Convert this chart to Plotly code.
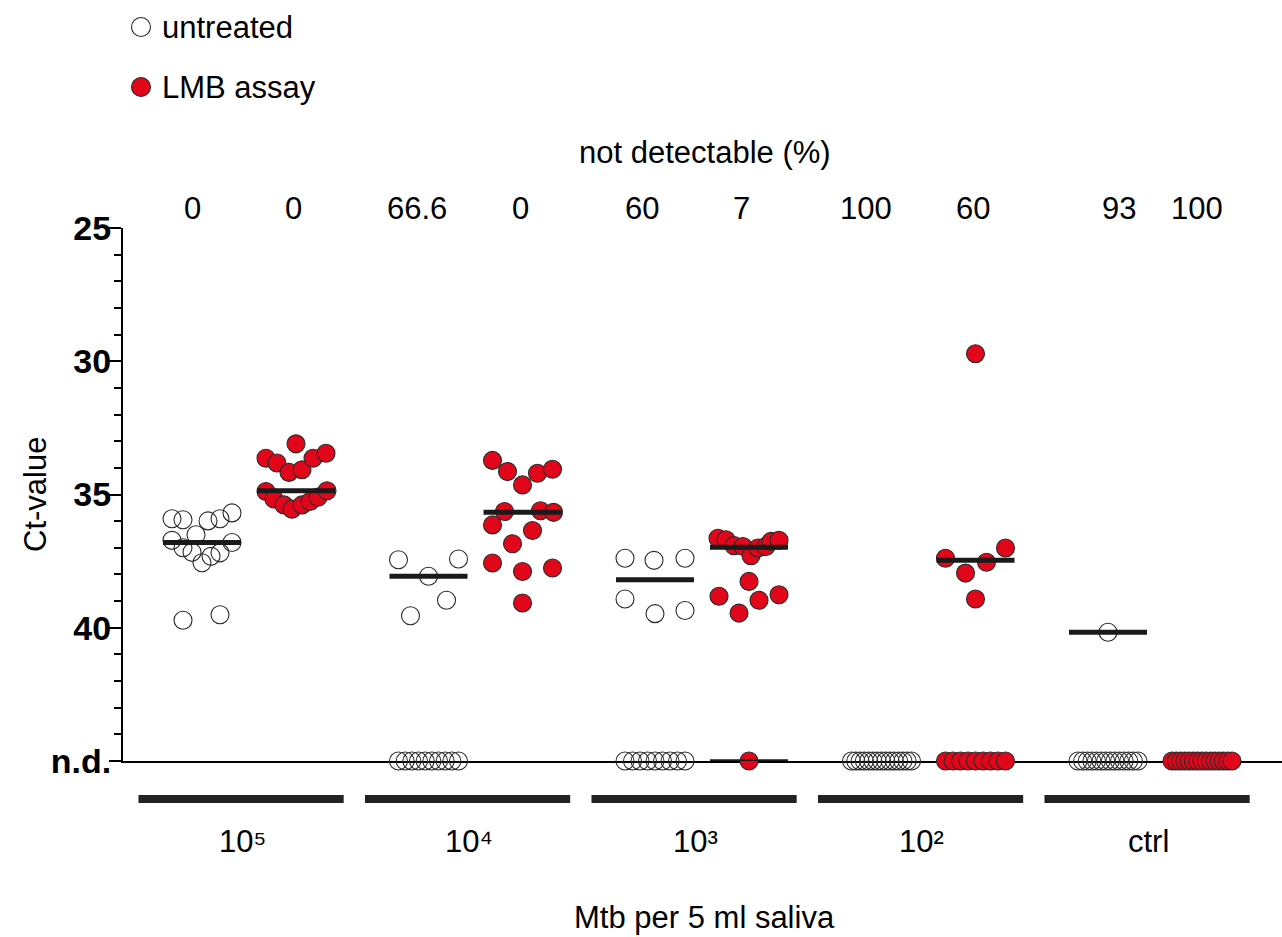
import numpy as np
import plotly.graph_objects as go

# ---------------- data ----------------
groups = ["10\u2075", "10\u2074", "10\u00b3", "10\u00b2", "ctrl"]
nd_percent_untreated = ["0", "66.6", "60", "100", "93"]
nd_percent_lmb = ["0", "0", "7", "60", "100"]

ND = 45  # Ct position used for "not detectable"

untreated_ct = [
    [35.91, 35.95, 35.99, 35.91, 35.69, 36.51, 36.72, 37.0, 37.17, 37.56, 37.32, 37.19, 36.8, 39.72, 39.51],
    [37.45, 38.07, 37.42, 38.97, 39.55],
    [37.39, 37.47, 37.39, 38.92, 39.47, 39.35],
    [],
    [40.17],
]
untreated_jitter_px = [
    [-30, -19, 6, 18, 30, -6, -30, -19, -10, 0, 9, 18, 30, -19, 18],
    [-30, 0, 30, 18, -18],
    [-30, -1, 30, -30, 0, 30],
    [],
    [0],
]
untreated_nd_count = [0, 10, 9, 15, 14]

lmb_ct = [
    [33.1, 33.64, 33.82, 34.17, 34.07, 33.64, 33.45, 34.89, 35.17, 35.39, 35.55, 35.39, 35.26, 35.1, 34.86],
    [33.72, 34.14, 34.64, 34.2, 34.05, 35.64, 35.61, 35.67, 36.14, 36.35, 36.85, 37.57, 37.89, 37.76, 39.07],
    [36.64, 36.7, 36.92, 36.95, 37.3, 37.01, 36.95, 36.76, 36.72, 38.26, 38.82, 38.97, 38.76, 39.45],
    [29.72, 37.39, 37.95, 37.54, 37.01, 38.92],
    [],
]
lmb_jitter_px = [
    [0, -30, -19, -7, 6, 17, 30, -30, -22, -12, -4, 6, 14, 22, 31],
    [-30, -15, 0, 15, 30, -18, 18, 31, -30, 10, -10, -30, 0, 30, 0],
    [-31, -23, -15, -6, 2, 9, 17, 22, 30, 0, -30, 10, 30, -10],
    [0, -30, -10, 11, 30, 0],
    [],
]
lmb_nd_count = [0, 0, 1, 9, 15]

# ---------------- geometry ----------------
W, H = 1282, 937
L, R, T, B = 123, 0, 228, 176
PX_PER_UNIT = 226.5
X0_PX = 249.0  # pixel of group 0 center
xmin = (L - X0_PX) / PX_PER_UNIT
xmax = (W - R - X0_PX) / PX_PER_UNIT
SERIES_OFF = 47 / PX_PER_UNIT
MED_HALF = 39 / PX_PER_UNIT
ND_SPREAD = 30 / PX_PER_UNIT

# small text nudges (pixels) for the percentage header
NUDGE_U = [0, -2, -4, -6, 20]
NUDGE_L = [0, 0, -5, 0, -3]

plot_w = W - L - R
plot_h = H - T - B


def pxx(p):
    return (p - L) / plot_w


def pxy(p):
    return (H - B - p) / plot_h


RED = "#e2061a"
EDGE = "#2a2a2a"
FONT = "Liberation Sans, Arial, sans-serif"
FS = 31

fig = go.Figure()


def add_series(cts, jit, ndc, offset, fill, name):
    xs, ys = [], []
    for i in range(len(groups)):
        c = i + offset
        for v, j in zip(cts[i], jit[i]):
            xs.append(c + j / PX_PER_UNIT)
            ys.append(v)
        n = ndc[i]
        if n == 1:
            xs.append(c)
            ys.append(ND)
        elif n > 1:
            for k in np.linspace(-ND_SPREAD, ND_SPREAD, n):
                xs.append(c + k)
                ys.append(ND)
    fig.add_trace(go.Scatter(
        x=xs, y=ys, mode="markers", name=name, showlegend=False,
        cliponaxis=False,
        marker=dict(symbol="circle", size=18, color=fill,
                    line=dict(color=EDGE, width=1.1)),
    ))


add_series(untreated_ct, untreated_jitter_px, untreated_nd_count, -SERIES_OFF,
           "rgba(255,255,255,0)", "untreated")
add_series(lmb_ct, lmb_jitter_px, lmb_nd_count, SERIES_OFF, RED, "LMB assay")

# median lines of detected values
for cts, off in ((untreated_ct, -SERIES_OFF), (lmb_ct, SERIES_OFF)):
    for i, vals in enumerate(cts):
        if len(vals) == 0:
            continue
        m = float(np.median(vals))
        c = i + off
        fig.add_trace(go.Scatter(
            x=[c - MED_HALF, c + MED_HALF], y=[m, m], mode="lines",
            showlegend=False, hoverinfo="skip",
            line=dict(color="#1a1a1a", width=5),
        ))

# short line at n.d. for the LMB 10^3 group
fig.add_trace(go.Scatter(
    x=[2 + SERIES_OFF - MED_HALF, 2 + SERIES_OFF + MED_HALF], y=[ND, ND],
    mode="lines", showlegend=False, hoverinfo="skip", cliponaxis=False,
    line=dict(color="#1a1a1a", width=3.5),
))

shapes = []
annotations = []

# group bars and labels under the axis
for i, g in enumerate(groups):
    shapes.append(dict(type="line", xref="x", yref="paper",
                       x0=i - 0.453 - 0.035, x1=i + 0.453 - 0.035,
                       y0=pxy(799), y1=pxy(799),
                       line=dict(color="#222222", width=8)))
    annotations.append(dict(xref="x", yref="paper", x=i - 0.03, y=pxy(841),
                            text=g, showarrow=False,
                            font=dict(family=FONT, size=FS, color="black"),
                            xanchor="center", yanchor="middle"))
    # not detectable percentages
    annotations.append(dict(xref="x", yref="paper",
                            x=i - SERIES_OFF - 0.04 + NUDGE_U[i] / PX_PER_UNIT,
                            y=pxy(208), text=nd_percent_untreated[i],
                            showarrow=False,
                            font=dict(family=FONT, size=FS, color="black"),
                            xanchor="center", yanchor="middle"))
    annotations.append(dict(xref="x", yref="paper",
                            x=i + SERIES_OFF - 0.01 + NUDGE_L[i] / PX_PER_UNIT,
                            y=pxy(208), text=nd_percent_lmb[i],
                            showarrow=False,
                            font=dict(family=FONT, size=FS, color="black"),
                            xanchor="center", yanchor="middle"))

annotations.append(dict(xref="paper", yref="paper", x=pxx(705), y=pxy(152),
                        text="not detectable (%)", showarrow=False,
                        font=dict(family=FONT, size=FS, color="black"),
                        xanchor="center", yanchor="middle"))
annotations.append(dict(xref="paper", yref="paper", x=pxx(704), y=pxy(917),
                        text="Mtb per 5 ml saliva", showarrow=False,
                        font=dict(family=FONT, size=FS, color="black"),
                        xanchor="center", yanchor="middle"))
annotations.append(dict(xref="paper", yref="paper", x=pxx(35), y=pxy(495),
                        text="Ct-value", showarrow=False, textangle=-90,
                        font=dict(family=FONT, size=FS, color="black"),
                        xanchor="center", yanchor="middle"))

# legend (manual)
for py, fill, label in ((27, "white", "untreated"), (87, RED, "LMB assay")):
    shapes.append(dict(type="circle", xref="paper", yref="paper",
                       xsizemode="pixel", ysizemode="pixel",
                       xanchor=pxx(141), yanchor=pxy(py),
                       x0=-9.5, x1=9.5, y0=-9.5, y1=9.5,
                       fillcolor=fill, line=dict(color=EDGE, width=1.1)))
    annotations.append(dict(xref="paper", yref="paper", x=pxx(160), y=pxy(py),
                            text=label, showarrow=False,
                            font=dict(family=FONT, size=FS, color="black"),
                            xanchor="left", yanchor="middle"))

fig.update_layout(
    width=W, height=H,
    margin=dict(l=L, r=R, t=T, b=B, pad=0),
    paper_bgcolor="white", plot_bgcolor="white",
    shapes=shapes, annotations=annotations,
    showlegend=False,
    xaxis=dict(range=[xmin, xmax], showgrid=False, zeroline=False,
               showticklabels=False, ticks="", showline=True,
               linecolor="black", linewidth=2, layer="below traces",
               fixedrange=True),
    yaxis=dict(range=[ND, 25], showgrid=False, zeroline=False,
               tickvals=[25, 30, 35, 40, 45],
               ticktext=["25", "30", "35", "40", "n.d."],
               ticks="outside", ticklen=12, tickwidth=2, tickcolor="black",
               tickfont=dict(family=FONT, size=34, color="black", weight="bold"),
               ticklabelstandoff=-9,
               minor=dict(dtick=1, ticks="outside", ticklen=7, tickwidth=1.5,
                          tickcolor="black", showgrid=False),
               showline=True, linecolor="black", linewidth=2,
               layer="below traces", fixedrange=True),
)

fig.write_html(
    "out.html",
    config={"displayModeBar": False},
    post_script="document.body.style.margin='0';document.body.style.overflow='hidden';",
)
